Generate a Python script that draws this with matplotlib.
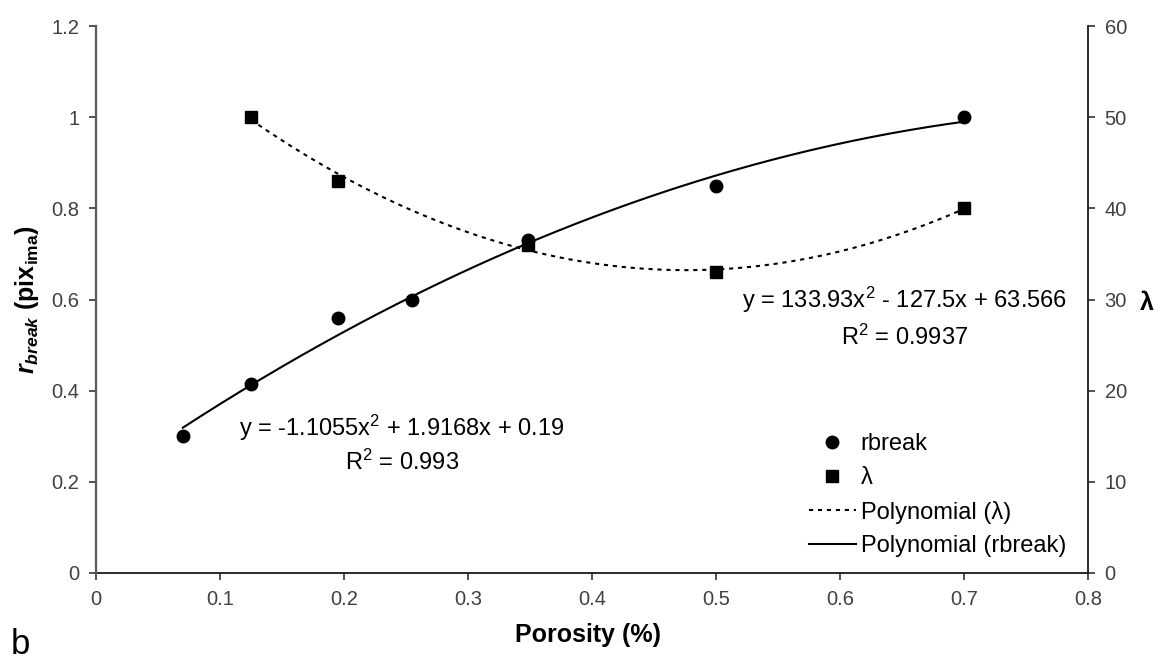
import numpy as np
import matplotlib
matplotlib.use("Agg")
import matplotlib.pyplot as plt
from matplotlib.lines import Line2D

plt.rcParams['font.family'] = ['Liberation Sans', 'DejaVu Sans']
plt.rcParams['mathtext.fontset'] = 'custom'
plt.rcParams['mathtext.rm'] = 'Liberation Sans'
plt.rcParams['mathtext.it'] = 'Liberation Sans:italic'
plt.rcParams['mathtext.bf'] = 'Liberation Sans:bold'
plt.rcParams['mathtext.bfit'] = 'Liberation Sans:bold:italic'

# data
rbreak_x = [0.07, 0.125, 0.195, 0.255, 0.348, 0.50, 0.70]
rbreak_y = [0.30, 0.415, 0.56, 0.60, 0.73, 0.85, 1.00]
lam_x = [0.125, 0.195, 0.348, 0.50, 0.70]
lam_y = [50, 43, 36, 33, 40]
rbreak_coef = [-1.1055, 1.9168, 0.19]
lam_coef = [133.93, -127.5, 63.566]
x_ticks = [0, 0.1, 0.2, 0.3, 0.4, 0.5, 0.6, 0.7, 0.8]
x_labels = ['0', '0.1', '0.2', '0.3', '0.4', '0.5', '0.6', '0.7', '0.8']
left_ticks = [0, 0.2, 0.4, 0.6, 0.8, 1.0, 1.2]
left_labels = ['0', '0.2', '0.4', '0.6', '0.8', '1', '1.2']
right_ticks = [0, 10, 20, 30, 40, 50, 60]

W, H = 1168, 662
fig = plt.figure(figsize=(W / 100, H / 100), dpi=100)
L, R, B, T = 96, 1088, 573, 26
ax = fig.add_axes([L / W, 1 - B / H, (R - L) / W, (B - T) / H])
ax2 = ax.twinx()

dots = (0, (2, 2.3))
xr = np.linspace(min(rbreak_x), max(rbreak_x), 200)
xl = np.linspace(min(lam_x), max(lam_x), 200)
ax.plot(xr, np.polyval(rbreak_coef, xr), color='black', lw=1.5, zorder=2)
ax.plot(rbreak_x, rbreak_y, 'o', color='black', ms=9, zorder=3)
ax2.plot(xl, np.polyval(lam_coef, xl), color='black', lw=1.5, ls=dots, zorder=2)
ax2.plot(lam_x, lam_y, 's', color='black', ms=9, zorder=3)

ax.set_xlim(0, 0.8)
ax.set_ylim(0, 1.2)
ax2.set_ylim(0, 60)
ax.set_xticks(x_ticks)
ax.set_xticklabels(x_labels)
ax.set_yticks(left_ticks)
ax.set_yticklabels(left_labels)
ax2.set_yticks(right_ticks)

for a in (ax, ax2):
    a.spines['top'].set_visible(False)
    a.tick_params(direction='out', length=5, width=1.2, color='#333333',
                  labelsize=14.5, labelcolor='#404040', pad=7)
ax.spines['right'].set_visible(False)
ax.spines['left'].set_visible(False)
ax2.spines['left'].set_color('#5a5a5a')
ax2.spines['left'].set_linewidth(1.6)
ax2.spines['right'].set_color('#1a1a1a')
ax2.spines['right'].set_linewidth(1.3)
ax2.spines['bottom'].set_visible(False)
ax.spines['bottom'].set_color('#1a1a1a')
ax.spines['bottom'].set_linewidth(1.3)

def fx(px):
    return px / W

def fy(py):
    return 1 - py / H

fig.text(fx(588), fy(635), 'Porosity (%)', fontsize=18, fontweight='bold',
         ha='center', va='center')
fig.text(fx(27), fy(300),
         r'$\mathbfit{r}_{\mathbfit{break}}$ $\mathbf{(pix}_{\mathbf{ima}}\mathbf{)}$',
         fontsize=18, rotation=90, ha='center', va='center')
fig.text(fx(1147), fy(303), 'λ', fontsize=18, fontweight='bold',
         ha='center', va='center')

eq_fs = 17
fig.text(fx(905), fy(300), 'y = 133.93x$^2$ - 127.5x + 63.566', fontsize=eq_fs,
         ha='center', va='center')
fig.text(fx(905), fy(337), 'R$^2$ = 0.9937', fontsize=eq_fs, ha='center', va='center')
fig.text(fx(402), fy(428), 'y = -1.1055x$^2$ + 1.9168x + 0.19', fontsize=eq_fs,
         ha='center', va='center')
fig.text(fx(402), fy(462), 'R$^2$ = 0.993', fontsize=eq_fs, ha='center', va='center')

handles = [
    Line2D([], [], marker='o', color='black', ls='none', ms=9),
    Line2D([], [], marker='s', color='black', ls='none', ms=9),
    Line2D([], [], color='black', lw=1.5, ls=dots),
    Line2D([], [], color='black', lw=1.5),
]
labels = ['rbreak', 'λ', 'Polynomial (λ)', 'Polynomial (rbreak)']
ax.legend(handles, labels, loc='upper right', bbox_to_anchor=(fx(1066), fy(433)),
          bbox_transform=fig.transFigure, borderpad=0, borderaxespad=0,
          frameon=False, fontsize=17, handlelength=2.0, handletextpad=0.2,
          labelspacing=0.5)

fig.text(fx(20), fy(645), 'b', fontsize=25, va='center', ha='center')

fig.savefig('out.png', dpi=100)
